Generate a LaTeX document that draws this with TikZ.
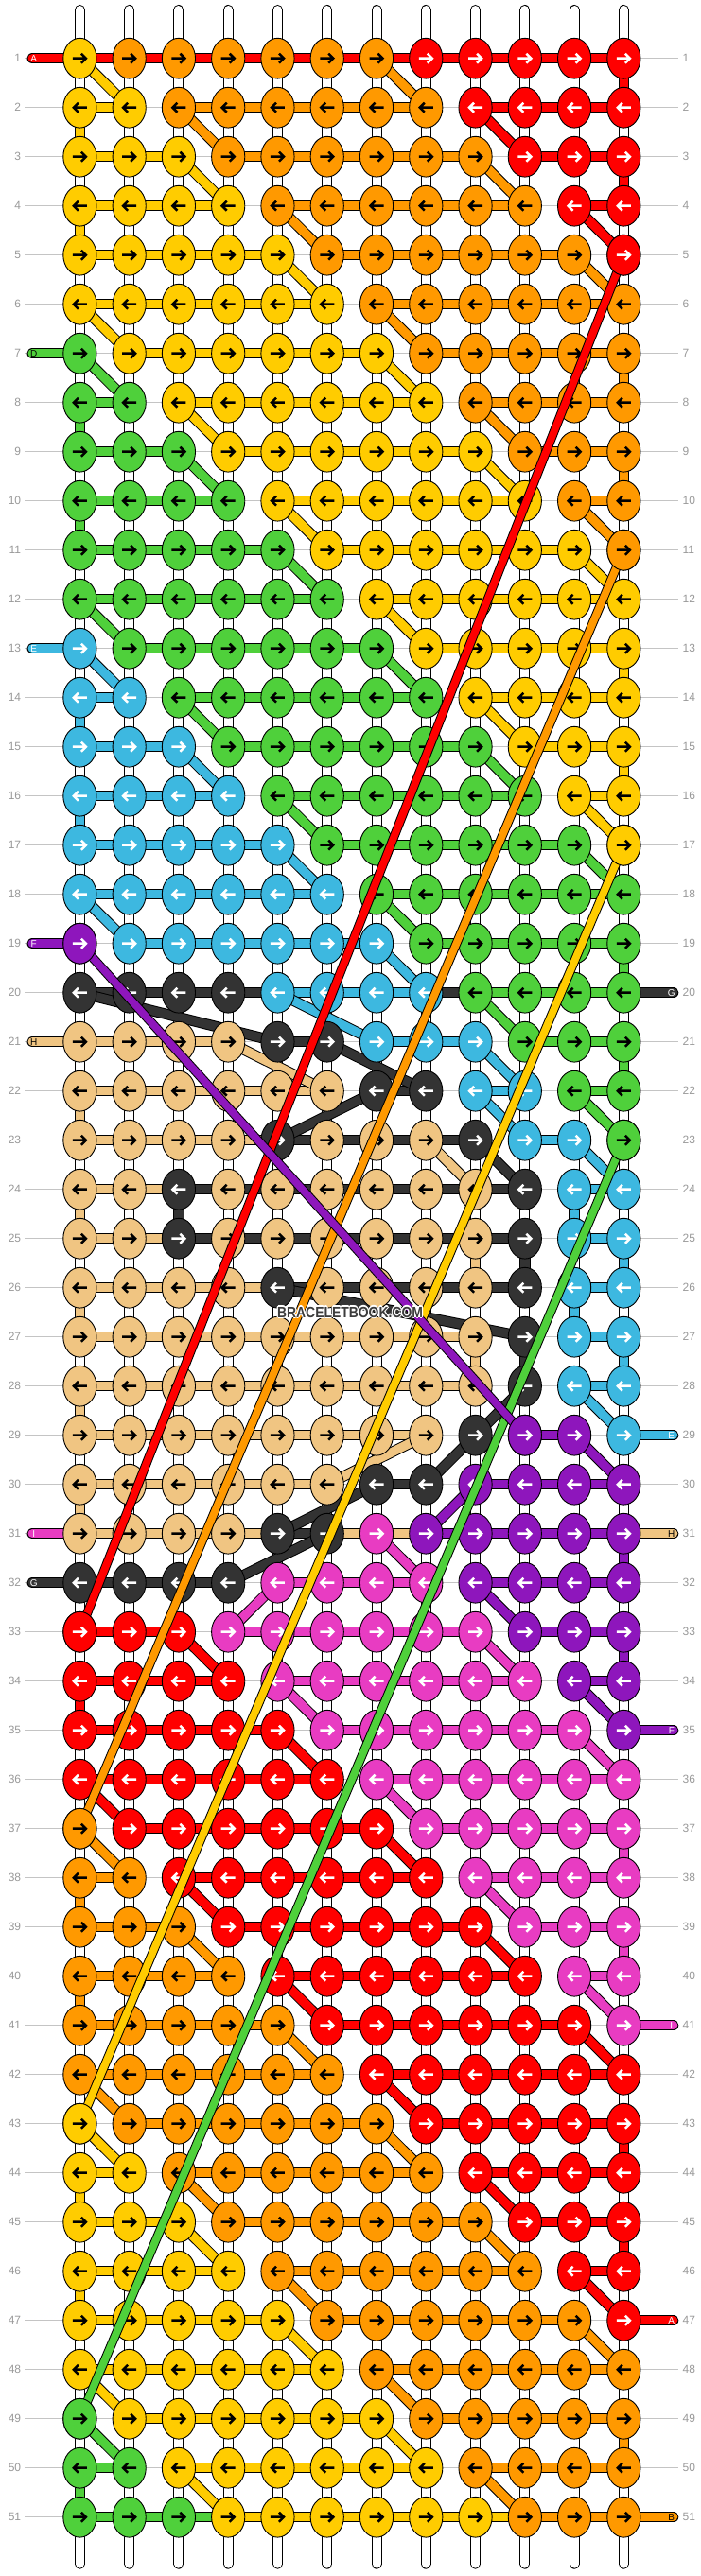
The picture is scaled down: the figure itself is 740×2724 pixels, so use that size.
\documentclass[tikz,border=0pt]{standalone}
\usepackage{fontspec}
\setmainfont{Liberation Sans}
\usepackage{graphicx}
\usetikzlibrary{shapes.geometric}
\definecolor{cY}{HTML}{FFCC00}
\definecolor{cO}{HTML}{FF9900}
\definecolor{cR}{HTML}{FF0000}
\definecolor{cG}{HTML}{4FD03B}
\definecolor{cB}{HTML}{3DB8E0}
\definecolor{cP}{HTML}{8E16BC}
\definecolor{cK}{HTML}{333333}
\definecolor{cT}{HTML}{F0C582}
\definecolor{cM}{HTML}{E83CC2}
\colorlet{aY}{black}\colorlet{aO}{black}\colorlet{aG}{black}\colorlet{aT}{black}
\colorlet{aR}{white}\colorlet{aB}{white}\colorlet{aP}{white}\colorlet{aK}{white}\colorlet{aM}{white}
\definecolor{lblgrey}{HTML}{999999}
\definecolor{linegrey}{HTML}{C4C4C4}
\definecolor{wmgrey}{HTML}{3C3C3C}
\tikzset{
  knot/.style={ellipse,draw=black,line width=0.9pt,minimum width=35.2pt,minimum height=42.8pt,inner sep=0pt},
  barout/.style={line width=11.4pt,draw=black},
  barin/.style={line width=9.4pt},
  longout/.style={line width=9.8pt,draw=black},
  longin/.style={line width=7.8pt},
  strout/.style={line width=11pt,draw=black,line cap=round},
  strin/.style={line width=9pt,draw=white,line cap=round},
  arrowline/.style={line width=2.5pt,line cap=butt,line join=miter},
  rowline/.style={line width=1.2pt,draw=linegrey},
  rowlbl/.style={inner sep=0pt,text=lblgrey,font=\fontsize{12}{12}\selectfont},
  pilltxt/.style={inner sep=0pt,font=\fontsize{10}{10}\selectfont},
  wm/.style={inner sep=0pt,font=\fontsize{16}{16}\selectfont\bfseries}
}
\newcommand\knotarrow[3]{%
  \pgfmathsetmacro\kdir{ifthenelse(mod(#1,2)==1,1,-1)}%
  \begin{scope}[shift={(p-#1-#2)},xscale=\kdir]
    \draw[arrowline,draw=a#3] (-7.5,0) -- (6,0) (1.5,-5) -- (6.5,0) -- (1.5,5);
  \end{scope}}
\def\knotdata{%
{Y,O,O,O,O,O,O,R,R,R,R,R},%
{Y,Y,O,O,O,O,O,O,R,R,R,R},%
{Y,Y,Y,O,O,O,O,O,O,R,R,R},%
{Y,Y,Y,Y,O,O,O,O,O,O,R,R},%
{Y,Y,Y,Y,Y,O,O,O,O,O,O,R},%
{Y,Y,Y,Y,Y,Y,O,O,O,O,O,O},%
{G,Y,Y,Y,Y,Y,Y,O,O,O,O,O},%
{G,G,Y,Y,Y,Y,Y,Y,O,O,O,O},%
{G,G,G,Y,Y,Y,Y,Y,Y,O,O,O},%
{G,G,G,G,Y,Y,Y,Y,Y,Y,O,O},%
{G,G,G,G,G,Y,Y,Y,Y,Y,Y,O},%
{G,G,G,G,G,G,Y,Y,Y,Y,Y,Y},%
{B,G,G,G,G,G,G,Y,Y,Y,Y,Y},%
{B,B,G,G,G,G,G,G,Y,Y,Y,Y},%
{B,B,B,G,G,G,G,G,G,Y,Y,Y},%
{B,B,B,B,G,G,G,G,G,G,Y,Y},%
{B,B,B,B,B,G,G,G,G,G,G,Y},%
{B,B,B,B,B,B,G,G,G,G,G,G},%
{P,B,B,B,B,B,B,G,G,G,G,G},%
{K,K,K,K,B,B,B,B,G,G,G,G},%
{T,T,T,T,K,K,B,B,B,G,G,G},%
{T,T,T,T,T,T,K,K,B,B,G,G},%
{T,T,T,T,K,T,T,T,K,B,B,G},%
{T,T,K,T,T,T,T,T,T,K,B,B},%
{T,T,K,T,T,T,T,T,T,K,B,B},%
{T,T,T,T,K,T,T,T,T,K,B,B},%
{T,T,T,T,T,T,T,T,T,K,B,B},%
{T,T,T,T,T,T,T,T,T,K,B,B},%
{T,T,T,T,T,T,T,T,K,P,P,B},%
{T,T,T,T,T,T,K,K,P,P,P,P},%
{T,T,T,T,K,K,M,P,P,P,P,P},%
{K,K,K,K,M,M,M,M,P,P,P,P},%
{R,R,R,M,M,M,M,M,M,P,P,P},%
{R,R,R,R,M,M,M,M,M,M,P,P},%
{R,R,R,R,R,M,M,M,M,M,M,P},%
{R,R,R,R,R,R,M,M,M,M,M,M},%
{O,R,R,R,R,R,R,M,M,M,M,M},%
{O,O,R,R,R,R,R,R,M,M,M,M},%
{O,O,O,R,R,R,R,R,R,M,M,M},%
{O,O,O,O,R,R,R,R,R,R,M,M},%
{O,O,O,O,O,R,R,R,R,R,R,M},%
{O,O,O,O,O,O,R,R,R,R,R,R},%
{Y,O,O,O,O,O,O,R,R,R,R,R},%
{Y,Y,O,O,O,O,O,O,R,R,R,R},%
{Y,Y,Y,O,O,O,O,O,O,R,R,R},%
{Y,Y,Y,Y,O,O,O,O,O,O,R,R},%
{Y,Y,Y,Y,Y,O,O,O,O,O,O,R},%
{Y,Y,Y,Y,Y,Y,O,O,O,O,O,O},%
{G,Y,Y,Y,Y,Y,Y,O,O,O,O,O},%
{G,G,Y,Y,Y,Y,Y,Y,O,O,O,O},%
{G,G,G,Y,Y,Y,Y,Y,Y,O,O,O}}
\expandafter\def\csname ovr1\endcsname{R,R,R,R,R,R,R,R,R,R,R}
\expandafter\def\csname ovr20\endcsname{K,K,K,K,B,B,B,K,G,G,G}
\expandafter\def\csname ovr23\endcsname{T,T,T,T,K,K,K,K,n,B,n}
\expandafter\def\csname ovr24\endcsname{T,T,K,K,K,K,K,K,K,n,B}
\expandafter\def\csname ovr25\endcsname{T,T,K,K,K,K,K,K,K,n,B}
\expandafter\def\csname ovr26\endcsname{T,T,T,T,K,K,K,K,K,n,B}
\expandafter\def\csname ovr31\endcsname{T,T,T,T,K,T,T,P,P,P,P}
\expandafter\def\csname ovr51\endcsname{G,G,G,Y,Y,Y,Y,Y,Y,O,O}
\def\conns{1/1/2/Y,1/7/8/O,1/12/12/R,%
2/1/1/Y,2/3/4/O,2/9/10/R,%
3/3/4/Y,3/9/10/O,3/12/12/R,%
4/1/1/Y,4/5/6/O,4/11/12/R,%
5/5/6/Y,5/11/12/O,%
6/1/2/Y,6/7/8/O,%
7/1/2/G,7/7/8/Y,7/12/12/O,%
8/1/1/G,8/3/4/Y,8/9/10/O,%
9/3/4/G,9/9/10/Y,9/12/12/O,%
10/1/1/G,10/5/6/Y,10/11/12/O,%
11/5/6/G,11/11/12/Y,%
12/1/2/G,12/7/8/Y,%
13/1/2/B,13/7/8/G,13/12/12/Y,%
14/1/1/B,14/3/4/G,14/9/10/Y,%
15/3/4/B,15/9/10/G,15/12/12/Y,%
16/1/1/B,16/5/6/G,16/11/12/Y,%
17/5/6/B,17/11/12/G,%
18/1/2/B,18/7/8/G,%
19/7/8/B,19/12/12/G,%
20/1/5/K,20/5/7/B,20/9/10/G,%
21/4/6/T,21/6/8/K,21/9/10/B,21/12/12/G,%
22/1/1/T,22/7/5/K,22/9/10/B,22/11/12/G,%
23/8/9/T,23/9/10/K,23/11/12/B,%
24/1/1/T,24/3/3/K,24/11/11/B,%
25/9/9/T,25/10/10/K,25/12/12/B,%
26/1/1/T,26/5/10/K,26/11/11/B,%
27/9/9/T,27/10/10/K,27/12/12/B,%
28/1/1/T,28/10/9/K,28/11/12/B,%
29/8/6/T,29/9/8/K,29/11/12/P,%
30/1/1/T,30/7/5/K,30/9/8/P,%
31/6/4/K,31/7/8/M,31/12/12/P,%
32/5/4/M,32/9/10/P,%
33/3/4/R,33/9/10/M,33/12/12/P,%
34/1/1/R,34/5/6/M,34/11/12/P,%
35/5/6/R,35/11/12/M,%
36/1/2/R,36/7/8/M,%
37/1/2/O,37/7/8/R,37/12/12/M,%
38/1/1/O,38/3/4/R,38/9/10/M,%
39/3/4/O,39/9/10/R,39/12/12/M,%
40/1/1/O,40/5/6/R,40/11/12/M,%
41/5/6/O,41/11/12/R,%
42/1/2/O,42/7/8/R,%
43/1/2/Y,43/7/8/O,43/12/12/R,%
44/1/1/Y,44/3/4/O,44/9/10/R,%
45/3/4/Y,45/9/10/O,45/12/12/R,%
46/1/1/Y,46/5/6/O,46/11/12/R,%
47/5/6/Y,47/11/12/O,%
48/1/2/Y,48/7/8/O,%
49/1/2/G,49/7/8/Y,49/12/12/O,%
50/1/1/G,50/3/4/Y,50/9/10/O}
\begin{document}
\begin{tikzpicture}[x=1pt,y=-1pt]
\useasboundingbox (0,0) rectangle (740,2724);
\fill[white] (0,0) rectangle (740,2724);
% knot positions
\foreach \ri in {1,...,51}{\foreach \ci in {1,...,12}{%
  \coordinate (p-\ri-\ci) at ({84.4+(\ci-1)*52.27},{61.7+(\ri-1)*52});}}
% row guide lines and numbers
\foreach \ri in {1,...,51}{%
  \coordinate (gl-\ri) at (26,{61.7+(\ri-1)*52});
  \coordinate (gr-\ri) at (717.3,{61.7+(\ri-1)*52});
  \draw[rowline] (gl-\ri) -- (gr-\ri);
  \node[rowlbl,anchor=east] (ll-\ri) at (22.3,{61.7+(\ri-1)*52}) {\ri};
  \node[rowlbl,anchor=west] (lr-\ri) at (721.5,{61.7+(\ri-1)*52}) {\ri};
}
% base strings
\foreach \ci in {1,...,12}{%
  \coordinate (st-\ci) at ({84.4+(\ci-1)*52.27},10.5);
  \coordinate (sb-\ci) at ({84.4+(\ci-1)*52.27},2711.2);
  \draw[strout] (st-\ci) -- (sb-\ci);
  \draw[strin] (st-\ci) -- (sb-\ci);
}
% entering / leaving strings (pills)
\foreach \ri/\cl/\lt/\tc in {1/R/A/white,7/G/D/black,13/B/E/white,19/P/F/white,21/T/H/black,31/M/I/white,32/K/G/white}{%
  \coordinate (pl-\ri) at (34.2,{61.7+(\ri-1)*52});
  \draw[barout,line cap=round] (pl-\ri) -- (p-\ri-1);
  \draw[barin,line cap=round,draw=c\cl] (pl-\ri) -- (p-\ri-1);
  \node[pilltxt,text=\tc] (plt-\ri) at (35.8,{61.7+(\ri-1)*52}) {\lt};
}
\foreach \ri/\cl/\lt/\tc in {20/K/G/white,29/B/E/white,31/T/H/black,35/P/F/white,41/M/I/white,47/R/A/white,51/O/B/black}{%
  \coordinate (pr-\ri) at (711.6,{61.7+(\ri-1)*52});
  \draw[barout,line cap=round] (p-\ri-12) -- (pr-\ri);
  \draw[barin,line cap=round,draw=c\cl] (p-\ri-12) -- (pr-\ri);
  \node[pilltxt,text=\tc] (prt-\ri) at (709.8,{61.7+(\ri-1)*52}) {\lt};
}
% horizontal bars
\foreach \row [count=\ri] in \knotdata {%
  \ifcsname ovr\ri\endcsname
    \expandafter\let\expandafter\ovl\csname ovr\ri\endcsname
    \foreach \bc [count=\ci] in \ovl {%
      \if n\bc\else
        \pgfmathtruncatemacro\cn{\ci+1}%
        \draw[barout] (p-\ri-\ci) -- (p-\ri-\cn);
        \draw[barin,draw=c\bc] (p-\ri-\ci) -- (p-\ri-\cn);
      \fi}%
  \else
    \foreach \col [count=\ci, remember=\col as \prv (initially x)] in \row {%
      \edef\kA{\col}\edef\kB{\prv}%
      \ifx\kA\kB
        \pgfmathtruncatemacro\cm{\ci-1}%
        \draw[barout] (p-\ri-\cm) -- (p-\ri-\ci);
        \draw[barin,draw=c\col] (p-\ri-\cm) -- (p-\ri-\ci);
      \fi}%
  \fi
}
% connections between rows
\foreach \ri/\ca/\cb/\cl in \conns {%
  \pgfmathtruncatemacro\rn{\ri+1}%
  \draw[barout] (p-\ri-\ca) -- (p-\rn-\cb);
  \draw[barin,draw=c\cl] (p-\ri-\ca) -- (p-\rn-\cb);
}
% knots
\foreach \row [count=\ri] in \knotdata {%
  \foreach \col [count=\ci] in \row {%
    \node[knot,fill=c\col] (k-\ri-\ci) at (p-\ri-\ci) {};
    \knotarrow{\ri}{\ci}{\col}%
  }%
}
% long diagonal strings
\foreach \ra/\ca/\rb/\cb/\cl in {5/12/33/1/R,11/12/37/1/O,17/12/43/1/Y,23/12/49/1/G,19/1/29/10/P}{%
  \draw[longout] (k-\ra-\ca.center) -- (k-\rb-\cb.center);
  \draw[longin,draw=c\cl] (k-\ra-\ca.center) -- (k-\rb-\cb.center);
}
\foreach \ri/\ci/\cl in {5/12/R,33/1/R,11/12/O,37/1/O,17/12/Y,43/1/Y,23/12/G,49/1/G,19/1/P,29/10/P}{%
  \filldraw[fill=c\cl,draw=black,line width=0.9pt] (p-\ri-\ci) ellipse [x radius=17.6,y radius=21.4];
  \knotarrow{\ri}{\ci}{\cl}%
}
% watermark
\foreach \dx/\dy [count=\i] in {-1.2/0,1.2/0,0/-1.2,0/1.2,-0.9/-0.9,0.9/0.9,-0.9/0.9,0.9/-0.9}{%
  \node[wm,text=white] (wmh-\i) at ({370+\dx},{1387.5+\dy}) {\scalebox{0.87}[1]{BRACELETBOOK.COM}};
}
\node[wm,text=wmgrey] (wm) at (370,1387.5) {\scalebox{0.87}[1]{BRACELETBOOK.COM}};
\end{tikzpicture}
\end{document}
